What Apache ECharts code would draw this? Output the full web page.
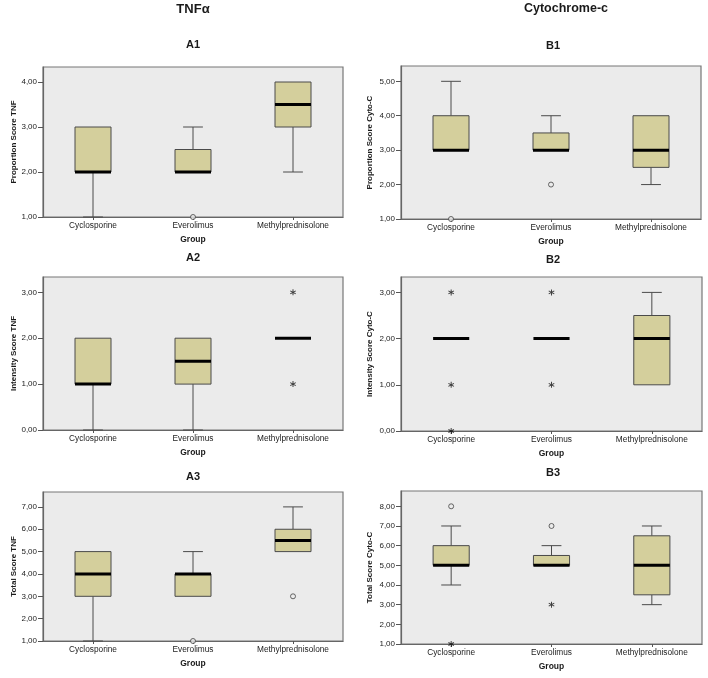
<!DOCTYPE html>
<html>
<head>
<meta charset="utf-8">
<script src="https://cdn.jsdelivr.net/npm/echarts@6/dist/echarts.min.js"></script>
<style>html,body{margin:0;padding:0;background:#fff}#c{width:708px;height:678px}</style>
</head>
<body>
<div id="c"></div>
<script>
// ---- data ----
const categories = ['Cyclosporine', 'Everolimus', 'Methylprednisolone'];
// box rows: [lower whisker, Q1, median, Q3, upper whisker] per category
const tnfProportionBox = [[1, 2, 2, 3, 3], [2, 2, 2, 2.5, 3], [2, 3, 3.5, 4, 4]];
const tnfProportionCircles = [[1, 1]];
const tnfProportionStars = [];
const cytoProportionBox = [[3, 3, 3, 4, 5], [3, 3, 3, 3.5, 4], [2, 2.5, 3, 4, 4]];
const cytoProportionCircles = [[0, 1], [1, 2]];
const cytoProportionStars = [];
const tnfIntensityBox = [[0, 1, 1, 2, 2], [0, 1, 1.5, 2, 2], [2, 2, 2, 2, 2]];
const tnfIntensityCircles = [];
const tnfIntensityStars = [[2, 3], [2, 1]];
const cytoIntensityBox = [[2, 2, 2, 2, 2], [2, 2, 2, 2, 2], [1, 1, 2, 2.5, 3]];
const cytoIntensityCircles = [];
const cytoIntensityStars = [[0, 3], [0, 1], [0, 0], [1, 3], [1, 1]];
const tnfTotalBox = [[1, 3, 4, 5, 5], [3, 3, 4, 4, 5], [5, 5, 5.5, 6, 7]];
const tnfTotalCircles = [[1, 1], [2, 3]];
const tnfTotalStars = [];
const cytoTotalBox = [[4, 5, 5, 6, 7], [5, 5, 5, 5.5, 6], [3, 3.5, 5, 6.5, 7]];
const cytoTotalCircles = [[0, 8], [1, 7]];
const cytoTotalStars = [[0, 1], [1, 3]];
// tick labels
const tnfProportionTicks = [1, 2, 3, 4];
const cytoProportionTicks = [1, 2, 3, 4, 5];
const tnfIntensityTicks = [0, 1, 2, 3];
const cytoIntensityTicks = [0, 1, 2, 3];
const tnfTotalTicks = [1, 2, 3, 4, 5, 6, 7];
const cytoTotalTicks = [1, 2, 3, 4, 5, 6, 7, 8];

// ---- layout / style ----
const FONT = 'Liberation Sans, Arial, sans-serif';
const BOX_FILL = '#d4cf9c';
const LINE = '#4a4a4a';
const ASTERISK = 'path://M-0.15,-1L0.15,-1L0.15,1L-0.15,1Z M-0.941,-0.37L-0.791,-0.63L0.941,0.37L0.791,0.63Z M-0.791,0.63L-0.941,0.37L0.791,-0.63L0.941,-0.37Z';

const panels = [
  {title: 'A1', tx: 193, ty: 39, grid: {left: 43, top: 67, width: 300, height: 150}, ticks: tnfProportionTicks, name: 'Proportion Score TNF', gap: 24, box: tnfProportionBox, circles: tnfProportionCircles, stars: tnfProportionStars},
  {title: 'B1', tx: 553, ty: 40, grid: {left: 401, top: 66, width: 300, height: 153}, ticks: cytoProportionTicks, name: 'Proportion Score Cyto-C', gap: 27, box: cytoProportionBox, circles: cytoProportionCircles, stars: cytoProportionStars},
  {title: 'A2', tx: 193, ty: 252, grid: {left: 43, top: 277, width: 300, height: 153}, ticks: tnfIntensityTicks, name: 'Intensity Score TNF', gap: 24, box: tnfIntensityBox, circles: tnfIntensityCircles, stars: tnfIntensityStars},
  {title: 'B2', tx: 553, ty: 254, grid: {left: 401, top: 277, width: 301, height: 154}, ticks: cytoIntensityTicks, name: 'Intensity Score Cyto-C', gap: 27, box: cytoIntensityBox, circles: cytoIntensityCircles, stars: cytoIntensityStars},
  {title: 'A3', tx: 193, ty: 471, grid: {left: 43, top: 492, width: 300, height: 149}, ticks: tnfTotalTicks, name: 'Total Score TNF', gap: 24, box: tnfTotalBox, circles: tnfTotalCircles, stars: tnfTotalStars},
  {title: 'B3', tx: 553, ty: 467, grid: {left: 401, top: 491, width: 301, height: 153}, ticks: cytoTotalTicks, name: 'Total Score Cyto-C', gap: 27, box: cytoTotalBox, circles: cytoTotalCircles, stars: cytoTotalStars}
];

function renderBox(params, api) {
  const x = api.value(0);
  const v = [1, 2, 3, 4, 5].map(i => api.value(i));
  const pts = v.map(val => api.coord([x, val]));
  const cx = pts[0][0];
  const ys = pts.map(p => p[1]);
  const bw = api.size([1, 0])[0] * 0.36;
  const cap = bw * 0.55;
  const ls = {stroke: LINE, lineWidth: 1};
  const children = [];
  if (v[0] < v[1]) {
    children.push({type: 'line', shape: {x1: cx, y1: ys[0], x2: cx, y2: ys[1]}, style: ls});
    children.push({type: 'line', shape: {x1: cx - cap / 2, y1: ys[0], x2: cx + cap / 2, y2: ys[0]}, style: ls});
  }
  if (v[4] > v[3]) {
    children.push({type: 'line', shape: {x1: cx, y1: ys[4], x2: cx, y2: ys[3]}, style: ls});
    children.push({type: 'line', shape: {x1: cx - cap / 2, y1: ys[4], x2: cx + cap / 2, y2: ys[4]}, style: ls});
  }
  if (v[3] > v[1]) {
    children.push({type: 'rect', shape: {x: cx - bw / 2, y: ys[3], width: bw, height: ys[1] - ys[3]}, style: {fill: BOX_FILL, stroke: LINE, lineWidth: 1}});
  }
  children.push({type: 'line', shape: {x1: cx - bw / 2, y1: ys[2], x2: cx + bw / 2, y2: ys[2]}, style: {stroke: '#000', lineWidth: 3}});
  return {type: 'group', children};
}

const fmt = v => v.toFixed(2).replace('.', ',');

const option = {
  animation: false,
  backgroundColor: '#fff',
  textStyle: {fontFamily: FONT},
  title: [
    {text: 'TNFα', left: 193, top: 3, padding: 0, textAlign: 'center', textStyle: {fontFamily: FONT, fontSize: 13, fontWeight: 'bold', color: '#1a1a1a'}},
    {text: 'Cytochrome-c', left: 566, top: 2, padding: 0, textAlign: 'center', textStyle: {fontFamily: FONT, fontSize: 12.5, fontWeight: 'bold', color: '#1a1a1a'}}
  ].concat(panels.map(p => ({text: p.title, left: p.tx, top: p.ty, padding: 0, textAlign: 'center', textStyle: {fontFamily: FONT, fontSize: 11, fontWeight: 'bold', color: '#1a1a1a'}}))),
  grid: panels.map(p => Object.assign({show: true, backgroundColor: '#ebebeb', borderColor: '#777', borderWidth: 1.2, containLabel: false}, p.grid)),
  xAxis: panels.map((p, i) => ({
    type: 'category', gridIndex: i, data: categories, boundaryGap: true,
    name: 'Group', nameLocation: 'middle', nameGap: 18,
    nameTextStyle: {fontFamily: FONT, fontSize: 8.5, fontWeight: 'bold', color: '#1a1a1a'},
    axisLine: {show: true, lineStyle: {color: '#666', width: 1.2}},
    axisTick: {show: true, alignWithLabel: true, length: 3, lineStyle: {color: '#555'}},
    axisLabel: {fontFamily: FONT, fontSize: 8.3, color: '#222', margin: 5},
    splitLine: {show: false}
  })),
  yAxis: panels.map((p, i) => {
    const lo = p.ticks[0], hi = p.ticks[p.ticks.length - 1];
    return {
      type: 'value', gridIndex: i, min: lo, max: hi + (hi - lo) / 9,
      name: p.name, nameLocation: 'middle', nameGap: p.gap,
      nameTextStyle: {fontFamily: FONT, fontSize: 8, fontWeight: 'bold', color: '#1a1a1a'},
      axisLine: {show: true, lineStyle: {color: '#666', width: 1.2}},
      axisTick: {show: true, length: 5, customValues: p.ticks, lineStyle: {color: '#555'}},
      axisLabel: {fontFamily: FONT, fontSize: 8, color: '#222', margin: 6, customValues: p.ticks, formatter: fmt},
      splitLine: {show: false}
    };
  }),
  series: [].concat(...panels.map((p, i) => [
    {
      type: 'custom', xAxisIndex: i, yAxisIndex: i, clip: false,
      renderItem: renderBox,
      encode: {x: 0, y: [1, 2, 3, 4, 5]},
      data: p.box.map((r, k) => [k].concat(r))
    },
    {
      type: 'scatter', xAxisIndex: i, yAxisIndex: i, clip: false, z: 5,
      symbol: 'circle', symbolSize: 5,
      itemStyle: {color: '#ebebeb', borderColor: '#444', borderWidth: 1},
      data: p.circles
    },
    {
      type: 'scatter', xAxisIndex: i, yAxisIndex: i, clip: false, z: 5,
      symbol: ASTERISK, symbolSize: 6,
      itemStyle: {color: '#111'},
      data: p.stars
    }
  ]))
};

const chart = echarts.init(document.getElementById('c'), null, {renderer: 'canvas'});
chart.setOption(option);
</script>
</body>
</html>
